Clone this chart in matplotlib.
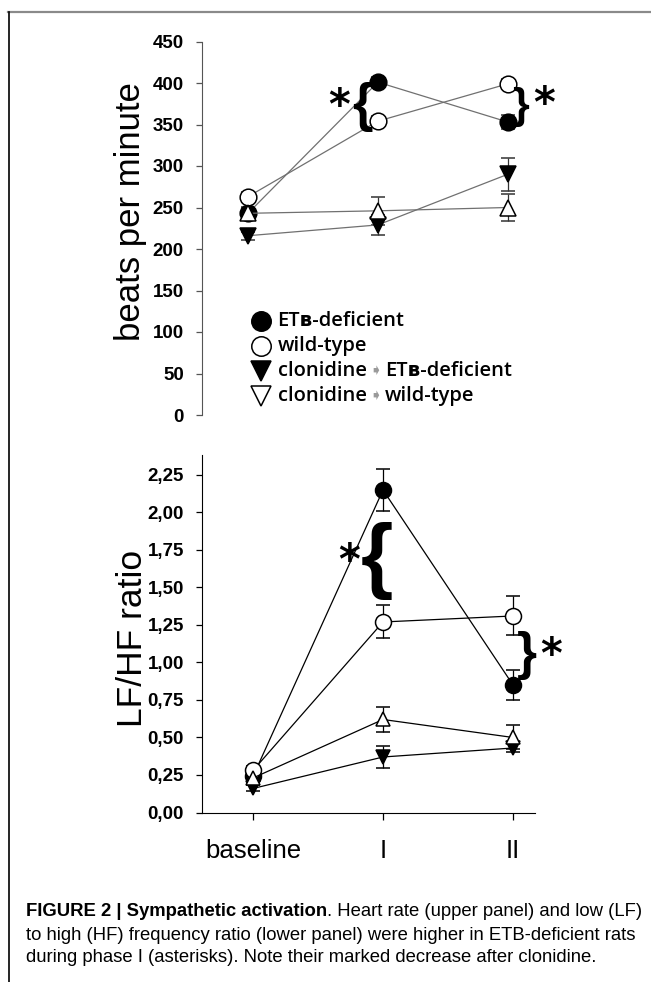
import matplotlib
matplotlib.use("Agg")
import matplotlib.pyplot as plt
from matplotlib.lines import Line2D
from matplotlib.offsetbox import AnchoredOffsetbox, DrawingArea, HPacker, TextArea, VPacker

plt.rcParams['font.family'] = ['Liberation Sans', 'DejaVu Sans']

phases = ['baseline', 'I', 'II']
x = [0, 1, 2]

# heart rate, beats per minute (mean, error)
hr_etb = [243, 401, 353]
hr_etb_err = [6, 6, 8]
hr_wt = [263, 354, 399]
hr_wt_err = [6, 6, 6]
hr_clo_etb = [216, 229, 290]
hr_clo_etb_err = [5, 12, 20]
hr_clo_wt = [243, 246, 250]
hr_clo_wt_err = [8, 17, 16]
hr_ticks = [0, 50, 100, 150, 200, 250, 300, 350, 400, 450]

# LF/HF ratio
lf_etb = [0.24, 2.15, 0.85]
lf_etb_err = [0.03, 0.14, 0.10]
lf_wt = [0.28, 1.27, 1.31]
lf_wt_err = [0.03, 0.11, 0.13]
lf_clo_etb = [0.16, 0.37, 0.43]
lf_clo_etb_err = [0.02, 0.075, 0.03]
lf_clo_wt = [0.23, 0.62, 0.50]
lf_clo_wt_err = [0.02, 0.085, 0.08]
lf_ticks = [0, 0.25, 0.5, 0.75, 1.0, 1.25, 1.5, 1.75, 2.0, 2.25]

W, H = 651, 982
fig = plt.figure(figsize=(W / 100, H / 100), dpi=100)

def px_axes(left, top, right, bottom):
    return fig.add_axes([left / W, 1 - bottom / H, (right - left) / W, (bottom - top) / H])

ax1 = px_axes(202, 41.5, 535, 415)
ax2 = px_axes(202, 455, 535, 812.5)

styles = [
    dict(marker='o', mfc='black', mec='black', ms=12),
    dict(marker='o', mfc='white', mec='black', ms=12),
    dict(marker='v', mfc='black', mec='black', ms=11),
    dict(marker='^', mfc='white', mec='black', ms=11),
]

def draw_series(ax, series, line_color, err_color, shrink=0):
    for (vals, errs), st in zip(series, styles):
        st = dict(st)
        st['ms'] -= shrink
        ax.errorbar(x, vals, yerr=errs, color=line_color, lw=0.9, ecolor=err_color,
                    elinewidth=0.9, capsize=5, capthick=0.9, mew=1.1, **st)

draw_series(ax1, [(hr_etb, hr_etb_err), (hr_wt, hr_wt_err),
                  (hr_clo_etb, hr_clo_etb_err), (hr_clo_wt, hr_clo_wt_err)],
            '#707070', '#333333')
draw_series(ax2, [(lf_etb, lf_etb_err), (lf_wt, lf_wt_err),
                  (lf_clo_etb, lf_clo_etb_err), (lf_clo_wt, lf_clo_wt_err)],
            'black', 'black', shrink=0.5)

tick_font = dict(family='Liberation Sans', weight='bold', size=13.5)

# upper panel
ax1.set_xlim(-0.354, 2.21)
ax1.set_ylim(0, 450)
for s in ['top', 'right', 'bottom']:
    ax1.spines[s].set_visible(False)
ax1.spines['left'].set_color('#555555')
ax1.set_xticks([])
ax1.set_yticks(hr_ticks)
ax1.set_yticklabels([str(v) for v in hr_ticks], **tick_font)
ax1.tick_params(axis='y', length=4, width=0.9, pad=9, color='#555555')
ax1.text(-0.216, 0.5435, 'beats per minute', transform=ax1.transAxes, rotation=90,
         ha='center', va='center', fontsize=25)

# lower panel
ax2.set_xlim(-0.392, 2.169)
ax2.set_ylim(0, 2.383)
for s in ['top', 'right']:
    ax2.spines[s].set_visible(False)
ax2.set_yticks(lf_ticks)
ax2.set_yticklabels([f"{v:.2f}".replace('.', ',') for v in lf_ticks], **tick_font)
ax2.set_xticks(x)
ax2.set_xticklabels(phases, fontsize=18.5)
ax2.tick_params(axis='y', length=4, width=0.9, pad=9)
ax2.tick_params(axis='x', length=5, width=0.9, pad=14)
ax2.text(-0.21, 0.488, 'LF/HF ratio', transform=ax2.transAxes, rotation=90,
         ha='center', va='center', fontsize=25.5)

# significance braces and asterisks
brace = dict(ha='center', va='center_baseline', weight='bold', family='Liberation Sans')
star = dict(ha='center', va='center', weight='bold', fontsize=30, family='DejaVu Sans')
ax1.text(1 - 0.12, (hr_etb[1] + hr_wt[1]) / 2, '{', fontsize=38, **brace)
ax1.text(1 - 0.30, (hr_etb[1] + hr_wt[1]) / 2 - 6, '*', **star)
ax1.text(2 + 0.10, (hr_etb[2] + hr_wt[2]) / 2, '}', fontsize=31, **brace)
ax1.text(2 + 0.28, (hr_etb[2] + hr_wt[2]) / 2 - 2, '*', **star)
ax2.text(1 - 0.05, (lf_etb[1] + lf_wt[1]) / 2 + 0.02, '{', fontsize=60, **brace)
ax2.text(1 - 0.26, (lf_etb[1] + lf_wt[1]) / 2 - 0.04, '*', **star)
ax2.text(2 + 0.11, (lf_etb[2] + lf_wt[2]) / 2, '}', fontsize=37, **brace)
ax2.text(2 + 0.29, (lf_etb[2] + lf_wt[2]) / 2 - 0.04, '*', **star)

# legend built from packed boxes so the arrow can be grey
leg_font = dict(family=['Open Sans', 'DejaVu Sans'], weight='semibold', size=14.5)
arrow_font = dict(family='DejaVu Sans', size=11, color='#9a9a9a')
labels = [['ET\u0299-deficient'], ['wild-type'],
          ['clonidine', '\u27a7', 'ET\u0299-deficient'],
          ['clonidine', '\u27a7', 'wild-type']]
rows = []
for st, parts in zip(styles, labels):
    da = DrawingArea(20, 16, 0, 0)
    mk = dict(st)
    mk['ms'] = 14 if mk['marker'] == 'o' else 15
    if mk['marker'] == '^':
        mk['marker'] = 'v'
    da.add_artist(Line2D([10], [8], ls='none', mew=1.1, **mk))
    boxes = [da]
    for p in parts:
        if p == '\u27a7':
            boxes.append(TextArea(p, textprops=arrow_font))
        else:
            boxes.append(TextArea(p, textprops=leg_font))
    rows.append(HPacker(children=boxes, align='center', pad=0, sep=2))
legend_box = VPacker(children=rows, align='left', pad=0, sep=2)
anch = AnchoredOffsetbox(loc='upper left', child=legend_box, frameon=False,
                         bbox_to_anchor=(0.135, 0.282), bbox_transform=ax1.transAxes,
                         borderpad=0, pad=0)
ax1.add_artist(anch)

# figure frame
fig.add_artist(Line2D([8 / W, 1], [1 - 12 / H, 1 - 12 / H], color='#8a8a8a', lw=1.6))
fig.add_artist(Line2D([9 / W, 9 / W], [1 - 12 / H, 0], color='black', lw=1.2))

# caption
cap_size = 13.3
cap = dict(fontsize=cap_size, va='center', ha='left')
t1 = fig.text(26 / W, 1 - 912 / H, 'FIGURE 2 | Sympathetic activation', weight='bold', **cap)
ax2.annotate('. Heart rate (upper panel) and low (LF)', xy=(1, 0.5), xycoords=t1,
             fontsize=cap_size, va='center', ha='left', annotation_clip=False)
fig.text(26 / W, 1 - 935 / H, 'to high (HF) frequency ratio (lower panel) were higher in ETB-deficient rats', **cap)
fig.text(26 / W, 1 - 957 / H, 'during phase I (asterisks). Note their marked decrease after clonidine.', **cap)

fig.savefig('out.png', dpi=100)
